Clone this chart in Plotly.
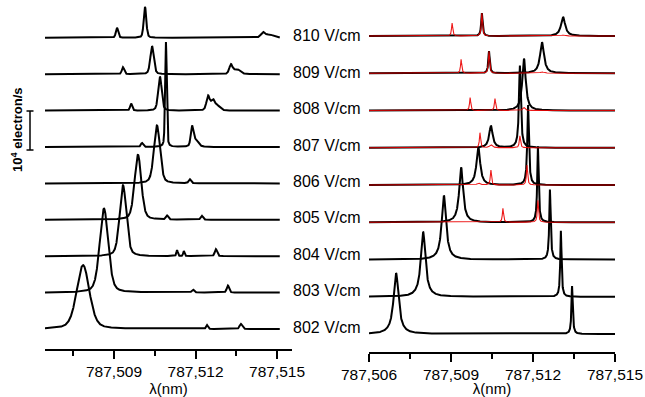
import numpy as np
import plotly.graph_objects as go

# ---------------- data ----------------
fields = ["802 V/cm", "803 V/cm", "804 V/cm", "805 V/cm", "806 V/cm",
          "807 V/cm", "808 V/cm", "809 V/cm", "810 V/cm"]

# experimental peaks (centre nm, height, fwhm nm) per field, left panel
exp_802 = [(787.50786, 64, 0.00055), (787.51242, 4, 0.00008), (787.51367, 5, 0.00011)]
exp_803 = [(787.50863, 84, 0.00037), (787.51190, 3, 0.00010), (787.51319, 7, 0.00010)]
exp_804 = [(787.50933, 71, 0.00029), (787.51132, 6, 0.00006), (787.51157, 5, 0.00006),
           (787.51275, 7, 0.00010)]
exp_805 = [(787.50988, 65, 0.00029), (787.51095, 4, 0.00010), (787.51223, 4, 0.00010)]
exp_806 = [(787.51058, 58, 0.00026), (787.51179, 4, 0.00010)]
exp_807 = [(787.51003, 4, 0.00010), (787.51091, 105, 0.00007), (787.51187, 19, 0.00011),
           (787.51201, 7, 0.00022)]
exp_808 = [(787.50963, 7, 0.00009), (787.51069, 34, 0.00015), (787.51246, 14, 0.00014),
           (787.51264, 10, 0.00018), (787.51282, 4, 0.00022)]
exp_809 = [(787.50933, 7, 0.00010), (787.51040, 28, 0.00015), (787.51330, 9, 0.00014),
           (787.51352, 5, 0.00028)]
exp_810 = [(787.50911, 10, 0.00010), (787.51014, 31, 0.00011), (787.51448, 5, 0.00018),
           (787.51473, 3, 0.00036)]
exp_peaks = [exp_802, exp_803, exp_804, exp_805, exp_806, exp_807, exp_808, exp_809, exp_810]

# simulated black spectra (Lorentzian lines)
sim_802 = [(787.50699, 61, 0.00022), (787.51343, 48, 0.000055)]
sim_803 = [(787.50798, 65, 0.00020), (787.51302, 66, 0.000055)]
sim_804 = [(787.50874, 64, 0.00019), (787.51262, 70, 0.00006)]
sim_805 = [(787.50937, 55, 0.00017), (787.51218, 76, 0.00006)]
sim_806 = [(787.51000, 38, 0.00016), (787.51182, 80, 0.00007)]
sim_807 = [(787.51046, 22, 0.00015), (787.51152, 82, 0.00008)]
sim_808 = [(787.51167, 52, 0.00015)]
sim_809 = [(787.51039, 22, 0.00006), (787.51233, 31, 0.00017)]
sim_810 = [(787.51013, 23, 0.00006), (787.51310, 19, 0.00018)]
sim_peaks = [sim_802, sim_803, sim_804, sim_805, sim_806, sim_807, sim_808, sim_809, sim_810]

# simulated red spectra (only 805-810)
red_805 = [(787.51090, 14, 0.00005), (787.51218, 22, 0.00005)]
red_806 = [(787.51046, 15, 0.00005), (787.51178, 20, 0.00005), (787.51000, 2, 0.00012)]
red_807 = [(787.51006, 15, 0.00005), (787.51152, 12, 0.00005), (787.51046, 3, 0.00012)]
red_808 = [(787.50970, 13, 0.00005), (787.51061, 12, 0.00005), (787.51167, 3, 0.00010)]
red_809 = [(787.50937, 14, 0.00005), (787.51039, 22, 0.00005), (787.51233, 1.5, 0.00015)]
red_810 = [(787.50904, 13, 0.00005), (787.51013, 23, 0.00005), (787.51310, 1, 0.00015)]
red_peaks = [None, None, None, red_805, red_806, red_807, red_808, red_809, red_810]

tick_vals = [787.506, 787.509, 787.512, 787.515]
minor_vals = [787.5075, 787.5105, 787.5135]
scale_bar_value = 39  # height of 10^4 electron/s in left intensity units

# ---------------- helpers ----------------
def lorentz(x, peaks):
    y = np.zeros_like(x)
    for c, h, w in peaks:
        y += h / (1 + ((x - c) / (w / 2)) ** 2)
    return y

def pvoigt(x, peaks, eta=0.35):
    y = np.zeros_like(x)
    for c, h, w in peaks:
        L = 1 / (1 + ((x - c) / (w / 2)) ** 2)
        G = np.exp(-4 * np.log(2) * ((x - c) / w) ** 2)
        y += h * (eta * L + (1 - eta) * G)
    return y

x_left = np.linspace(787.50646, 787.51510, 4000)
x_right = np.linspace(787.506, 787.515, 4000)

W, H = 645, 397
left_bottom_px, right_bottom_px = 349, 352
left_base0, left_step = 20, 36.4
right_base0, right_step = 18, 37.25
FONT = "Arial, Liberation Sans, sans-serif"

fig = go.Figure()

for i, f in enumerate(fields):
    off = left_base0 + i * left_step
    fig.add_trace(go.Scatter(x=x_left, y=off + pvoigt(x_left, exp_peaks[i]),
                             mode="lines", line=dict(color="black", width=2),
                             xaxis="x", yaxis="y", showlegend=False, hoverinfo="skip"))

for i, f in enumerate(fields):
    off = right_base0 + i * right_step
    fig.add_trace(go.Scatter(x=x_right, y=off + lorentz(x_right, sim_peaks[i]),
                             mode="lines", line=dict(color="black", width=2),
                             xaxis="x2", yaxis="y2", showlegend=False, hoverinfo="skip"))
    if red_peaks[i] is not None:
        fig.add_trace(go.Scatter(x=x_right, y=off + lorentz(x_right, red_peaks[i]),
                                 mode="lines", line=dict(color="rgba(235,0,0,0.9)", width=1.1),
                                 xaxis="x2", yaxis="y2", showlegend=False, hoverinfo="skip"))

# field labels
for i, f in enumerate(fields):
    fig.add_annotation(text=f, xref="paper", yref="y", x=291 / W, y=left_base0 + i * left_step + 2,
                       xanchor="left", yanchor="middle", showarrow=False,
                       font=dict(family=FONT, size=16, color="black"))

# scale bar
bar_x = 30 / W
bar_y0 = left_bottom_px - 150
fig.add_shape(type="line", xref="paper", yref="y", x0=bar_x, x1=bar_x,
              y0=bar_y0, y1=bar_y0 + scale_bar_value, line=dict(color="black", width=1.5))
for yy in (bar_y0, bar_y0 + scale_bar_value):
    fig.add_shape(type="line", xref="paper", yref="y", x0=bar_x - 3.5 / W, x1=bar_x + 3.5 / W,
                  y0=yy, y1=yy, line=dict(color="black", width=1.5))
fig.add_annotation(text="<b>10<sup>4</sup> electron/s</b>", xref="paper", yref="paper",
                   x=17 / W, y=(H - 130) / H, textangle=-90, showarrow=False,
                   xanchor="center", yanchor="middle",
                   font=dict(family=FONT, size=13, color="black"))

axis_common = dict(
    tickmode="array", tickvals=tick_vals, tickformat=".3f", automargin=False,
    ticks="outside", ticklen=8, tickwidth=1.5, tickcolor="black",
    showline=True, linecolor="black", linewidth=1.5, showgrid=False, zeroline=False,
    tickfont=dict(family=FONT, size=15.5, color="black"),
    minor=dict(tickmode="array", tickvals=minor_vals,
               ticks="outside", ticklen=5, tickwidth=1.5, tickcolor="black"),
    title=dict(text="λ(nm)", font=dict(family=FONT, size=15, color="black"),
               standoff=2),
)

fig.update_layout(
    width=W, height=H, margin=dict(l=0, r=0, t=0, b=0, autoexpand=False),
    paper_bgcolor="white", plot_bgcolor="white",
    separators=",.",
    xaxis=dict(domain=[45 / W, 292 / W], range=[787.50646, 787.51555], anchor="y", **axis_common),
    yaxis=dict(domain=[(H - left_bottom_px) / H, 1], range=[0, left_bottom_px], visible=False),
    xaxis2=dict(domain=[369 / W, 615 / W], range=[787.506, 787.515], anchor="y2", **axis_common),
    yaxis2=dict(domain=[(H - right_bottom_px) / H, 1], range=[0, right_bottom_px], visible=False),
)

fig.write_html("out.html")
